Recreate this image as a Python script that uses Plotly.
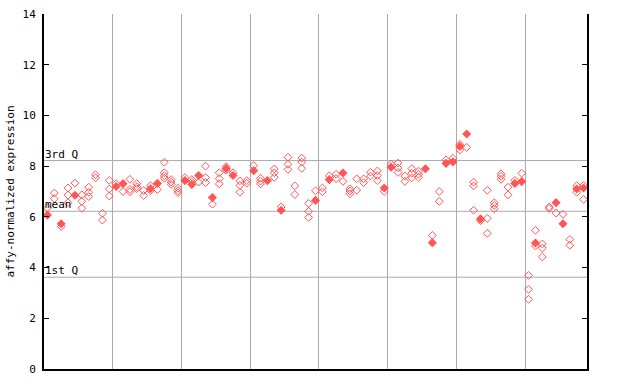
import plotly.graph_objects as go

# per-sample replicate values (open diamonds) and overlapping/solid points
hollow = [
    [6.35], [6.94, 6.72], [5.62], [7.14, 6.86, 6.56], [7.33], [6.87, 6.61, 6.34],
    [7.17, 6.97, 6.8], [7.66, 7.54], [6.14, 5.87], [7.44, 7.1, 6.82],
    [7.31], [7.0], [7.48, 7.08, 6.99], [7.31, 7.19, 7.11], [7.04, 6.84],
    [7.23, 7.04], [7.08], [8.15, 7.74, 7.62, 7.52], [7.47, 7.37, 7.28], [7.13, 7.03, 6.95],
    [7.55], [7.47, 7.37], [7.37], [8.0, 7.55, 7.35], [6.5],
    [7.74, 7.51, 7.3], [7.98, 7.84], [7.74], [7.42, 7.24, 6.97], [7.43, 7.33],
    [8.02], [7.52, 7.41, 7.3], [], [7.89, 7.74, 7.56], [6.39],
    [8.35, 8.07, 7.87], [7.22, 6.88], [8.32, 8.16, 7.91], [6.53, 6.22, 5.98], [7.03],
    [7.14, 6.99], [7.62], [7.68, 7.51], [7.4], [7.11, 7.02, 6.91],
    [7.5, 7.05], [7.5, 7.35], [7.76, 7.61], [7.81, 7.63, 7.43], [7.0],
    [8.08], [8.12, 7.93, 7.75], [7.61, 7.4], [7.9, 7.72, 7.54], [7.8, 7.68, 7.56],
    [], [5.27], [7.0, 6.61], [8.25], [8.31],
    [8.86, 8.64], [8.74], [7.37, 7.22, 6.26], [5.85], [7.05, 5.94, 5.35],
    [6.56, 6.45, 6.32], [7.7, 7.6, 7.48], [7.17, 6.87], [7.44], [7.72],
    [3.69, 3.14, 2.75], [5.47, 4.85], [4.93, 4.77, 4.42], [6.39, 6.33], [6.15],
    [6.1], [5.11, 4.88], [7.23, 6.97], [7.24, 6.69],
]
solid = [
    [6.07], [], [5.73], [], [6.85], [], [], [], [], [],
    [7.2], [7.31], [], [], [], [7.11], [7.32], [], [], [],
    [7.43], [7.28], [7.63], [], [6.76], [], [7.91], [7.63], [], [],
    [7.82], [], [7.43], [], [6.26], [], [], [], [], [6.65],
    [], [7.47], [], [7.73], [], [], [], [], [], [7.14],
    [7.96], [], [], [], [], [7.9], [4.98], [], [8.11], [8.17],
    [8.78], [9.27], [], [5.92], [], [], [], [], [7.32], [7.39],
    [], [4.97], [], [], [6.56], [5.73], [], [7.1], [7.14],
]
stat_names = ["3rd Q", "mean", "1st Q"]
stat_values = [8.22, 6.22, 3.62]
y_ticks = [0, 2, 4, 6, 8, 10, 12, 14]

n = len(hollow)
hx, hy, sx, sy = [], [], [], []
for i in range(n):
    for v in hollow[i]:
        hx.append(i + 0.5); hy.append(v)
    for v in solid[i]:
        sx.append(i + 0.5); sy.append(v)

RED = "#ff5555"
FONT = "DejaVu Sans Mono"

fig = go.Figure()
fig.add_trace(go.Scatter(x=hx, y=hy, mode="markers",
                         marker=dict(symbol="diamond-open", size=6, color=RED,
                                     line=dict(width=1, color=RED)),
                         hoverinfo="y", showlegend=False))
fig.add_trace(go.Scatter(x=sx, y=sy, mode="markers",
                         marker=dict(symbol="diamond", size=7, color=RED,
                                     line=dict(width=0)),
                         hoverinfo="y", showlegend=False))

shapes = []
for v in stat_values:
    shapes.append(dict(type="line", xref="x", yref="y", x0=0, x1=n, y0=v, y1=v,
                       line=dict(color="#aaaaaa", width=1), layer="below"))
annotations = []
for name, v in zip(stat_names, stat_values):
    annotations.append(dict(xref="paper", yref="y", x=0, y=v, text=name,
                            xanchor="left", yanchor="bottom", showarrow=False,
                            font=dict(family=FONT, size=11, color="black"),
                            xshift=-1, yshift=-2))

fig.update_layout(
    width=640, height=384,
    margin=dict(l=44, r=53, t=14, b=15),
    paper_bgcolor="white", plot_bgcolor="white",
    shapes=shapes, annotations=annotations,
    font=dict(family=FONT, size=11, color="black"),
    xaxis=dict(range=[0, n], tick0=0, dtick=10, showgrid=True,
               gridcolor="#aaaaaa", gridwidth=1, showticklabels=False,
               ticks="", showline=True, linecolor="black", linewidth=2,
               zeroline=False, mirror=False, automargin=False),
    yaxis=dict(range=[0, 14], tickvals=y_ticks, showgrid=False, zeroline=False,
               ticks="inside", ticklen=5, tickcolor="black",
               showline=True, linecolor="black", linewidth=2, mirror="ticks",
               ticklabelstandoff=4, automargin=False,
               title=dict(text="affy-normalized expression", standoff=6,
                          font=dict(family=FONT, size=11))),
)

fig.write_html("out.html")
